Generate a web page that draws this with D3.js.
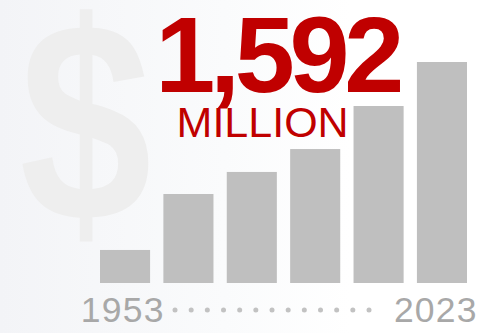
<!DOCTYPE html>
<html>
<head>
<meta charset="utf-8">
<script src="https://cdn.jsdelivr.net/npm/d3@7"></script>
<style>
  html, body { margin: 0; padding: 0; background: #ffffff; }
  svg { display: block; font-family: "Liberation Sans", Arial, sans-serif; }
</style>
</head>
<body>
<svg id="chart" width="500" height="333"></svg>
<script>
// Spending periods, first to latest (millions of dollars)
const periods = ["1953", "1967", "1981", "1995", "2009", "2023"];
const amounts = [238, 641, 800, 965, 1275, 1592];
const endLabels = ["1953", "2023"];
const headline = "1,592";
const unitLabel = "MILLION";
const dotCount = 13;

const svg = d3.select("#chart");
const W = 500, H = 333;

// soft backdrop, slightly cool on the left fading to white
const defs = svg.append("defs");
const grad = defs.append("linearGradient").attr("id", "bg")
  .attr("x1", "0%").attr("x2", "100%").attr("y1", "0%").attr("y2", "0%");
grad.append("stop").attr("offset", "0%").attr("stop-color", "#f3f4f7");
grad.append("stop").attr("offset", "45%").attr("stop-color", "#fafbfc");
grad.append("stop").attr("offset", "70%").attr("stop-color", "#ffffff");
svg.append("rect").attr("width", W).attr("height", H).attr("fill", "url(#bg)");

// large faint dollar sign behind everything, drawn a little tall
const dollarSize = 238, dollarStretch = 1.196;
svg.append("text")
  .attr("transform", `translate(19.3, ${7 + 0.75 * dollarSize * dollarStretch}) scale(1, ${dollarStretch})`)
  .attr("font-size", dollarSize).attr("font-weight", "bold")
  .attr("fill", "#eeeeee")
  .text("$");

const x = d3.scaleBand().domain(periods).range([100, 467])
  .paddingInner(0.21).paddingOuter(0);
const y = d3.scaleLinear().domain([0, d3.max(amounts)]).range([283, 62]);

svg.append("g").selectAll("rect")
  .data(periods.map((p, i) => ({ p, v: amounts[i] })))
  .join("rect")
  .attr("x", d => x(d.p))
  .attr("y", d => y(d.v))
  .attr("width", x.bandwidth())
  .attr("height", d => y(0) - y(d.v))
  .attr("fill", "#bfbfbf");

// headline figure
svg.append("text")
  .attr("x", 155.2).attr("y", 92)
  .attr("font-size", 108).attr("font-weight", "bold")
  .attr("letter-spacing", -5.3)
  .attr("fill", "#c00000")
  .text(headline);

svg.append("text")
  .attr("x", 176.6).attr("y", 137)
  .attr("font-size", 43)
  .attr("fill", "#c00000")
  .text(unitLabel);

// time axis: endpoint years joined by a dotted run
svg.selectAll("text.year")
  .data(endLabels)
  .join("text")
  .attr("class", "year")
  .attr("x", (d, i) => i === 0 ? 80.8 : 393.9)
  .attr("y", 322.3)
  .attr("font-size", 35.5)
  .attr("letter-spacing", 1.2)
  .attr("fill", "#a8a8a8")
  .text(d => d);

const dx = d3.scaleLinear().domain([0, dotCount - 1]).range([175, 369]);
svg.append("g").selectAll("circle")
  .data(d3.range(dotCount))
  .join("circle")
  .attr("cx", d => dx(d))
  .attr("cy", 310)
  .attr("r", 2.5)
  .attr("fill", "#c2c2c2");
</script>
</body>
</html>
